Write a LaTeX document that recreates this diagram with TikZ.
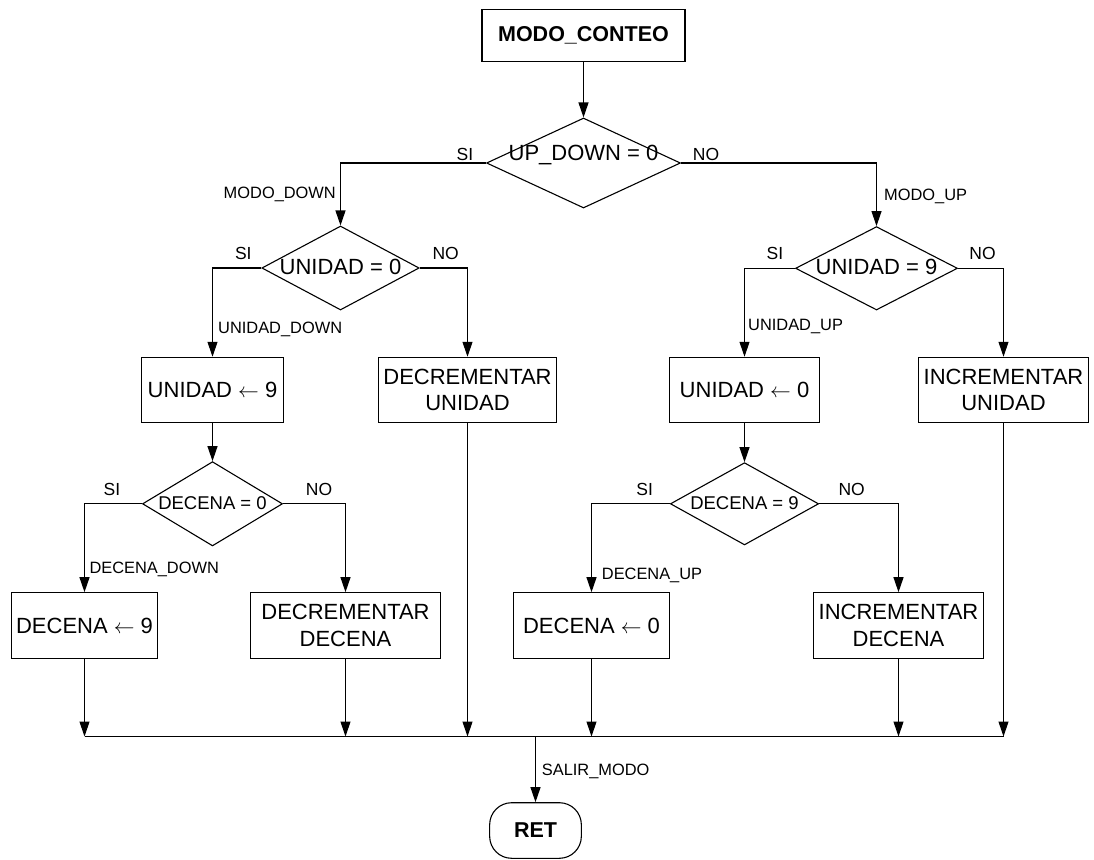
\documentclass[tikz,border=0pt]{standalone}
\usepackage{fontspec}
\setmainfont{Liberation Sans}
\usetikzlibrary{shapes.geometric,arrows.meta}

\tikzset{
  line/.style={line width=1.1pt, draw=black},
  arr/.style={line, -{Triangle[length=15pt,width=10pt]}},
  box/.style={draw, line width=1.1pt, inner sep=0pt, align=center,
              font=\fontsize{22}{26.5}\selectfont},
  cond/.style={draw, line width=1.1pt, shape=diamond, inner sep=0pt,
               text height=12pt, text depth=0pt},
  bigcond/.style={cond, font=\fontsize{22}{24}\selectfont},
  smallcond/.style={cond, font=\fontsize{18.5}{20}\selectfont},
  lbl/.style={inner sep=0pt, text height=11.7pt, text depth=0pt,
              font=\fontsize{16.4}{18}\selectfont},
  yn/.style={inner sep=0pt, text height=12.5pt, text depth=0pt,
             font=\fontsize{17.5}{19}\selectfont},
}

\begin{document}
\begin{tikzpicture}[x=1pt,y=-1pt]
\useasboundingbox (0,0) rectangle (1094,859);

% entry and top-level decision
\node[box, font=\bfseries\fontsize{21.5}{26}\selectfont,
      minimum width=203pt, minimum height=52.4pt] (start) at (583.5,35.5) {MODO\_CONTEO};
\node[bigcond, minimum width=194pt, minimum height=90pt] (d1) at (583.5,163)
  {\makebox[0pt]{\raisebox{8.5pt}{UP\_DOWN = 0}}};

% unit decisions
\node[bigcond, minimum width=157.4pt, minimum height=84pt] (d2) at (340.5,268)
  {\makebox[0pt]{UNIDAD = 0}};
\node[bigcond, minimum width=162pt, minimum height=83.4pt] (d3) at (876.5,268.3)
  {\makebox[0pt]{UNIDAD = 9}};

% unit actions
\node[box, minimum width=141.6pt, minimum height=65pt] (b1) at (212.5,389.8) {UNIDAD $\leftarrow$ 9};
\node[box, minimum width=178.3pt, minimum height=65pt] (b2) at (467.5,389.8) {DECREMENTAR\\UNIDAD};
\node[box, minimum width=149.3pt, minimum height=65pt] (b3) at (744.5,389.8) {UNIDAD $\leftarrow$ 0};
\node[box, minimum width=170pt, minimum height=65pt] (b4) at (1003.5,389.8) {INCREMENTAR\\UNIDAD};

% ten decisions
\node[smallcond, minimum width=140pt, minimum height=84.3pt] (d4) at (212.5,503.8)
  {\makebox[0pt]{DECENA = 0}};
\node[smallcond, minimum width=148.3pt, minimum height=82.3pt] (d5) at (744.5,503.8)
  {\makebox[0pt]{DECENA = 9}};

% ten actions
\node[box, minimum width=146.3pt, minimum height=65.6pt] (b5) at (84.5,625.5) {DECENA $\leftarrow$ 9};
\node[box, minimum width=189.3pt, minimum height=65.6pt] (b6) at (345.5,625.5) {DECREMENTAR\\DECENA};
\node[box, minimum width=156.7pt, minimum height=65.6pt] (b7) at (591.5,625.5) {DECENA $\leftarrow$ 0};
\node[box, minimum width=170.7pt, minimum height=65.6pt] (b8) at (898.5,625.5) {INCREMENTAR\\DECENA};

% exit
\node[box, font=\bfseries\fontsize{21.5}{26}\selectfont, rounded corners=22pt,
      minimum width=91.7pt, minimum height=55.6pt] (ret) at (535.5,830.5) {RET};
\coordinate (bus) at (535.5,736.5);

% connectors
\draw[arr] (start.south) -- (d1.north);
\draw[arr] (d1.west) -| (d2.north);
\draw[arr] (d1.east) -| (d3.north);
\draw[arr] (d2.west) -| (b1.north);
\draw[arr] (d2.east) -| (b2.north);
\draw[arr] (d3.west) -| (b3.north);
\draw[arr] (d3.east) -| (b4.north);
\draw[arr] (b1.south) -- (d4.north);
\draw[arr] (b3.south) -- (d5.north);
\draw[arr] (d4.west) -| (b5.north);
\draw[arr] (d4.east) -| (b6.north);
\draw[arr] (d5.west) -| (b7.north);
\draw[arr] (d5.east) -| (b8.north);

% merge bus
\draw[arr] (b5.south) -- (b5.south |- bus);
\draw[arr] (b6.south) -- (b6.south |- bus);
\draw[arr] (b2.south) -- (b2.south |- bus);
\draw[arr] (b7.south) -- (b7.south |- bus);
\draw[arr] (b8.south) -- (b8.south |- bus);
\draw[arr] (b4.south) -- (b4.south |- bus);
\draw[line] (b5.south |- bus) -- (b4.south |- bus);
\draw[arr] (bus) -- (ret.north);

% branch labels
\node[yn] (si1) at (465,154) {SI};
\node[yn] (no1) at (706,154) {NO};
\node[lbl, anchor=east] (mdown) at (336,193) {MODO\_DOWN};
\node[lbl, anchor=west] (mup) at (884,195) {MODO\_UP};
\node[yn] (si2) at (243.3,253) {SI};
\node[yn] (no2) at (445.7,253) {NO};
\node[lbl, anchor=west] (udown) at (218,328) {UNIDAD\_DOWN};
\node[yn] (si3) at (775,253.5) {SI};
\node[yn] (no3) at (982.5,253.5) {NO};
\node[lbl, anchor=west] (uup) at (748,325) {UNIDAD\_UP};
\node[yn] (si4) at (112,489) {SI};
\node[yn] (no4) at (319,489) {NO};
\node[lbl, anchor=west] (ddown) at (89.3,567.5) {DECENA\_DOWN};
\node[yn] (si5) at (644.7,489) {SI};
\node[yn] (no5) at (851.7,489) {NO};
\node[lbl, anchor=west] (dup) at (601.7,573.5) {DECENA\_UP};
\node[lbl, anchor=west] (salir) at (541.7,770) {SALIR\_MODO};
\end{tikzpicture}
\end{document}
